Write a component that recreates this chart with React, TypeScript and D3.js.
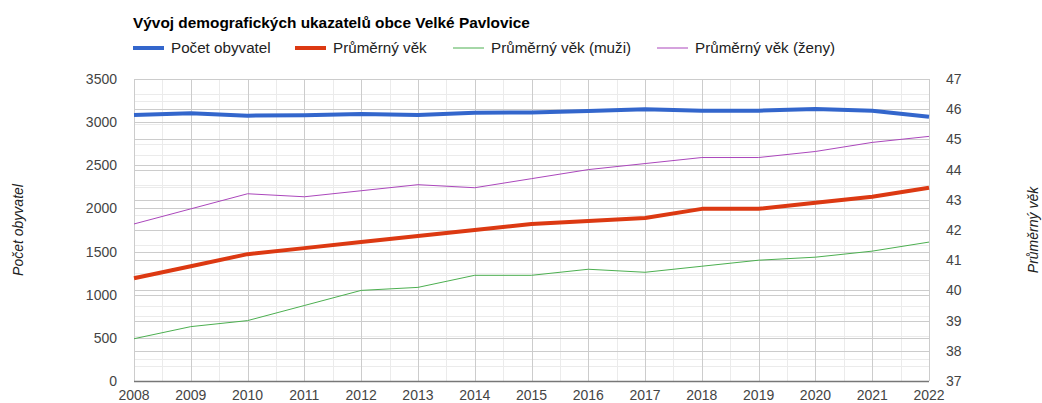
import React, { useEffect, useRef } from 'react';
import * as d3 from 'd3';

const title = 'Vývoj demografických ukazatelů obce Velké Pavlovice';
const years = [2008, 2009, 2010, 2011, 2012, 2013, 2014, 2015, 2016, 2017, 2018, 2019, 2020, 2021, 2022];
const population = [3083, 3102, 3075, 3080, 3094, 3083, 3110, 3113, 3129, 3149, 3133, 3133, 3152, 3133, 3063];
const avgAge = [40.4, 40.8, 41.2, 41.4, 41.6, 41.8, 42.0, 42.2, 42.3, 42.4, 42.7, 42.7, 42.9, 43.1, 43.4];
const avgAgeMen = [38.4, 38.8, 39.0, 39.5, 40.0, 40.1, 40.5, 40.5, 40.7, 40.6, 40.8, 41.0, 41.1, 41.3, 41.6];
const avgAgeWomen = [42.2, 42.7, 43.2, 43.1, 43.3, 43.5, 43.4, 43.7, 44.0, 44.2, 44.4, 44.4, 44.6, 44.9, 45.1];
const leftTicks = [0, 500, 1000, 1500, 2000, 2500, 3000, 3500];
const rightTicks = [37, 38, 39, 40, 41, 42, 43, 44, 45, 46, 47];

const FONT = '"Liberation Sans", Arial, sans-serif';

const App = () => {
  const chartRef = useRef<SVGSVGElement | null>(null);

  useEffect(() => {
    const svg = d3.select(chartRef.current);
    svg.selectAll('*').remove();

    const width = 1042;
    const height = 403;
    const plot = { left: 134, right: 929, top: 79, bottom: 381 };

    const x = d3.scaleLinear().domain([2008, 2022]).range([plot.left, plot.right]);
    const yL = d3.scaleLinear().domain([0, 3500]).range([plot.bottom, plot.top]);
    const yR = d3.scaleLinear().domain([37, 47]).range([plot.bottom, plot.top]);

    svg.attr('width', width).attr('height', height).style('font-family', FONT);

    // Minor gridlines
    const grid = svg.append('g');
    const minorL = d3.range(250, 3500, 500);
    const minorR = d3.range(37.5, 47, 1);
    const minorX = d3.range(2008.5, 2022, 1);
    grid.selectAll('.mxl').data(minorL).enter().append('line')
      .attr('x1', plot.left).attr('x2', plot.right)
      .attr('y1', (d) => Math.round(yL(d)) + 0.5).attr('y2', (d) => Math.round(yL(d)) + 0.5)
      .attr('stroke', '#ebebeb');
    grid.selectAll('.mxr').data(minorR).enter().append('line')
      .attr('x1', plot.left).attr('x2', plot.right)
      .attr('y1', (d) => Math.round(yR(d)) + 0.5).attr('y2', (d) => Math.round(yR(d)) + 0.5)
      .attr('stroke', '#ebebeb');
    grid.selectAll('.mx').data(minorX).enter().append('line')
      .attr('y1', plot.top).attr('y2', plot.bottom)
      .attr('x1', (d) => Math.round(x(d)) + 0.5).attr('x2', (d) => Math.round(x(d)) + 0.5)
      .attr('stroke', '#ebebeb');

    // Major gridlines
    grid.selectAll('.gl').data(leftTicks).enter().append('line')
      .attr('x1', plot.left).attr('x2', plot.right)
      .attr('y1', (d) => Math.round(yL(d)) + 0.5).attr('y2', (d) => Math.round(yL(d)) + 0.5)
      .attr('stroke', '#cccccc');
    grid.selectAll('.gr').data(rightTicks).enter().append('line')
      .attr('x1', plot.left).attr('x2', plot.right)
      .attr('y1', (d) => Math.round(yR(d)) + 0.5).attr('y2', (d) => Math.round(yR(d)) + 0.5)
      .attr('stroke', '#cccccc');
    grid.selectAll('.gx').data(years).enter().append('line')
      .attr('y1', plot.top).attr('y2', plot.bottom)
      .attr('x1', (d) => Math.round(x(d)) + 0.5).attr('x2', (d) => Math.round(x(d)) + 0.5)
      .attr('stroke', '#cccccc');

    // Baseline
    svg.append('line')
      .attr('x1', plot.left).attr('x2', plot.right)
      .attr('y1', plot.bottom + 0.5).attr('y2', plot.bottom + 0.5)
      .attr('stroke', '#777777').attr('stroke-width', 1.5);

    // Tick labels
    svg.selectAll('.tl').data(leftTicks).enter().append('text')
      .attr('x', 117).attr('y', (d) => yL(d) + 5)
      .attr('text-anchor', 'end').attr('font-size', 14).attr('fill', '#444')
      .text((d) => d);
    svg.selectAll('.tr').data(rightTicks).enter().append('text')
      .attr('x', 946).attr('y', (d) => yR(d) + 5)
      .attr('text-anchor', 'start').attr('font-size', 14).attr('fill', '#444')
      .text((d) => d);
    svg.selectAll('.tx').data(years).enter().append('text')
      .attr('x', (d) => x(d)).attr('y', 400)
      .attr('text-anchor', 'middle').attr('font-size', 14).attr('fill', '#444')
      .text((d) => d);

    // Axis titles
    svg.append('text')
      .attr('transform', `translate(23,${(plot.top + plot.bottom) / 2}) rotate(-90)`)
      .attr('text-anchor', 'middle').attr('font-size', 14).attr('font-style', 'italic').attr('fill', '#222')
      .text('Počet obyvatel');
    svg.append('text')
      .attr('transform', `translate(1038,${(plot.top + plot.bottom) / 2}) rotate(-90)`)
      .attr('text-anchor', 'middle').attr('font-size', 14).attr('font-style', 'italic').attr('fill', '#222')
      .text('Průměrný věk');

    // Series
    const series = [
      { name: 'Počet obyvatel', values: population, scale: yL, color: '#3366cc', w: 4, lx: 133 },
      { name: 'Průměrný věk', values: avgAge, scale: yR, color: '#dc3912', w: 4, lx: 295 },
      { name: 'Průměrný věk (muži)', values: avgAgeMen, scale: yR, color: '#4caf50', w: 1, lx: 453 },
      { name: 'Průměrný věk (ženy)', values: avgAgeWomen, scale: yR, color: '#ab47bc', w: 1, lx: 657 },
    ];

    series.forEach((s) => {
      const line = d3.line<number>()
        .x((_, i) => x(years[i]))
        .y((d) => s.scale(d));
      svg.append('path')
        .datum(s.values)
        .attr('d', line)
        .attr('fill', 'none')
        .attr('stroke', s.color)
        .attr('stroke-width', s.w)
        .attr('stroke-linejoin', 'round');
    });

    // Title
    svg.append('text')
      .attr('x', 133).attr('y', 28)
      .attr('font-size', 15.4).attr('font-weight', 'bold').attr('fill', '#000')
      .text(title);

    // Legend
    const legend = svg.append('g');
    series.forEach((s) => {
      legend.append('line')
        .attr('x1', s.lx).attr('x2', s.lx + 31)
        .attr('y1', 48).attr('y2', 48)
        .attr('stroke', s.color).attr('stroke-width', s.w);
      legend.append('text')
        .attr('x', s.lx + 38).attr('y', 53)
        .attr('font-size', 15.2).attr('fill', '#222')
        .text(s.name);
    });
  }, []);

  return (
    <div style={{ position: 'absolute', left: 0, top: 0 }}>
      <svg ref={chartRef}></svg>
    </div>
  );
};

export default App;
